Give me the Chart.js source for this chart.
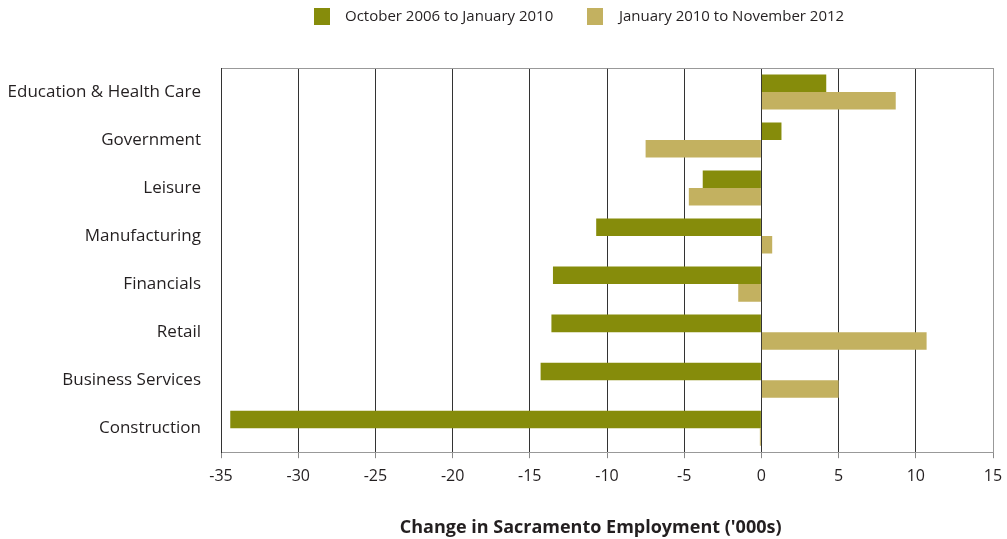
<!DOCTYPE html>
<html>
<head>
<meta charset="utf-8">
<script src="https://cdn.jsdelivr.net/npm/chart.js@4"></script>
<style>
  html, body { margin: 0; padding: 0; background: #fff; }
  #wrap { width: 1007px; height: 539px; }
</style>
</head>
<body>
<div id="wrap"><canvas id="employmentChart"></canvas></div>
<script>
// Données (milliers d'emplois)
const categories = ['Education & Health Care', 'Government', 'Leisure', 'Manufacturing',
    'Financials', 'Retail', 'Business Services', 'Construction'];
const seriesNames = ['October 2006 to January 2010', 'January 2010 to November 2012'];
const oct2006ToJan2010 = [4.2, 1.3, -3.8, -10.7, -13.5, -13.6, -14.3, -34.4];
const jan2010ToNov2012 = [8.7, -7.5, -4.7, 0.7, -1.5, 10.7, 5.0, -0.1];
const xTicks = [-35, -30, -25, -20, -15, -10, -5, 0, 5, 10, 15];

const colors = ['#868c0b', '#c3b160'];
const textColor = '#231f20';
const fontFamily = '"Open Sans", "Noto Sans", sans-serif';

// Légende dessinée à la main pour garder l'espacement de l'original
const customLegend = {
    id: 'customLegend',
    afterDraw(chart) {
        const ctx = chart.ctx;
        const items = [
            { box: 314, text: 345 },
            { box: 587, text: 619 }
        ];
        ctx.save();
        ctx.font = '15px ' + fontFamily;
        ctx.textBaseline = 'middle';
        items.forEach((it, i) => {
            ctx.fillStyle = colors[i];
            ctx.fillRect(it.box, 8, 16, 17);
            ctx.fillStyle = textColor;
            ctx.fillText(seriesNames[i], it.text, 17);
        });
        ctx.restore();
    }
};

new Chart(document.getElementById('employmentChart').getContext('2d'), {
    type: 'bar',
    data: {
        labels: categories,
        datasets: [
            { label: seriesNames[0], data: oct2006ToJan2010, backgroundColor: colors[0] },
            { label: seriesNames[1], data: jan2010ToNov2012, backgroundColor: colors[1] }
        ]
    },
    options: {
        indexAxis: 'y',
        responsive: true,
        maintainAspectRatio: false,
        animation: false,
        categoryPercentage: 0.73,
        barPercentage: 1,
        layout: {
            padding: { top: 68, left: 9, right: 14, bottom: 0 }
        },
        plugins: {
            legend: { display: false },
            tooltip: { enabled: false }
        },
        scales: {
            x: {
                min: -35,
                max: 15,
                afterBuildTicks: scale => {
                    scale.ticks = xTicks.map(v => ({ value: v }));
                },
                // la marge droite vient de layout.padding, pas de l'étiquette "15"
                afterFit: scale => { scale.paddingRight = 0; },
                ticks: {
                    color: textColor,
                    font: { family: fontFamily, size: 16 },
                    padding: 9
                },
                grid: {
                    color: ctx => (ctx.tick && ctx.tick.value === 15) ? '#999' : '#333',
                    tickColor: '#888',
                    tickLength: 6
                },
                border: { color: '#999' },
                title: {
                    display: true,
                    // espaces en fin de texte : décale le titre vers la gauche comme l'original
                    text: "Change in Sacramento Employment ('000s)\u00a0\u00a0\u00a0\u00a0\u00a0\u00a0\u00a0",
                    color: textColor,
                    font: { family: fontFamily, size: 18, weight: 'bold' },
                    padding: { top: 22, bottom: 0 }
                }
            },
            y: {
                afterFit: scale => { scale.width = 212; },
                ticks: {
                    color: textColor,
                    font: { family: fontFamily, size: 17 },
                    padding: 20
                },
                grid: {
                    drawTicks: false,
                    color: ctx => ctx.index === 0 ? '#999' : 'rgba(0,0,0,0)'
                },
                border: { color: '#333' }
            }
        }
    },
    plugins: [customLegend]
});
</script>
</body>
</html>
